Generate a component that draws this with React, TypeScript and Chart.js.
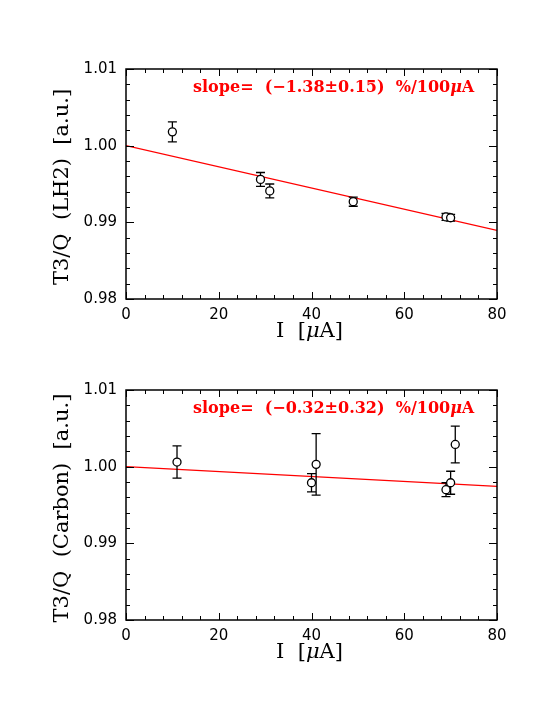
import React, { useEffect, useRef } from 'react';
import { Chart, registerables } from 'chart.js';

Chart.register(...registerables);

// ---------- data ----------
const xTicks = [0, 20, 40, 60, 80];
const yTicks = [0.98, 0.99, 1.0, 1.01];

const lh2Current = [10, 29, 31, 49, 69, 70];
const lh2Ratio = [1.0018, 0.9956, 0.9941, 0.9927, 0.9907, 0.9906];
const lh2Error = [0.0013, 0.0009, 0.0009, 0.0006, 0.00045, 0.00045];
const lh2FitX = [0, 80];
const lh2FitY = [1.0, 0.98896];
const lh2Slope = '(\u22121.38\u00b10.15)';

const carbonCurrent = [11, 40, 41, 69, 70, 71];
const carbonRatio = [1.0006, 0.9979, 1.0003, 0.997, 0.9979, 1.0029];
const carbonError = [0.0021, 0.0012, 0.004, 0.0009, 0.0015, 0.0024];
const carbonFitX = [0, 80];
const carbonFitY = [1.0, 0.99744];
const carbonSlope = '(\u22120.32\u00b10.32)';

const SERIF = "'DejaVu Serif', serif";
const SANS = "'DejaVu Sans', sans-serif";

type PanelProps = {
  top: number;
  height: number;
  padTop: number;
  xAxisH: number;
  xs: number[];
  ys: number[];
  errs: number[];
  fitX: number[];
  fitY: number[];
  slope: string;
  yTitle: string;
};

function drawSegments(ctx: CanvasRenderingContext2D, segs: [string, string][], x: number, y: number, align: 'left' | 'center') {
  let total = 0;
  const widths = segs.map(([t, f]) => {
    ctx.font = f;
    const w = ctx.measureText(t).width;
    total += w;
    return w;
  });
  let cx = align === 'center' ? x - total / 2 : x;
  segs.forEach(([t, f], i) => {
    ctx.font = f;
    ctx.fillText(t, cx, y);
    cx += widths[i];
  });
}

function Panel(p: PanelProps) {
  const ref = useRef<HTMLCanvasElement | null>(null);
  useEffect(() => {
    const canvas = ref.current!;
    const errPlugin = {
      id: 'errbars',
      beforeDatasetDraw(chart: any, args: any) {
        if (args.index !== 0) return;
        const { ctx, scales } = chart;
        const x = scales.x, y = scales.y;
        ctx.save();
        ctx.strokeStyle = '#000';
        ctx.lineWidth = 1.3;
        p.xs.forEach((xv, i) => {
          const px = x.getPixelForValue(xv);
          const y1 = y.getPixelForValue(p.ys[i] + p.errs[i]);
          const y2 = y.getPixelForValue(p.ys[i] - p.errs[i]);
          ctx.beginPath();
          ctx.moveTo(px, y1); ctx.lineTo(px, y2);
          ctx.moveTo(px - 4.5, y1); ctx.lineTo(px + 4.5, y1);
          ctx.moveTo(px - 4.5, y2); ctx.lineTo(px + 4.5, y2);
          ctx.stroke();
        });
        ctx.restore();
      },
    };
    const framePlugin = {
      id: 'frame',
      afterDraw(chart: any) {
        const { ctx, chartArea: a, scales } = chart;
        const x = scales.x, y = scales.y;
        ctx.save();
        ctx.strokeStyle = '#000';
        ctx.lineWidth = 1.5;
        ctx.strokeRect(a.left, a.top, a.right - a.left, a.bottom - a.top);
        ctx.lineWidth = 1;
        ctx.beginPath();
        for (let i = 0; i <= 20; i++) {
          const v = i * 4;
          const px = Math.round(x.getPixelForValue(v)) + 0.5;
          const len = i % 5 === 0 ? 7 : 4;
          ctx.moveTo(px, a.bottom); ctx.lineTo(px, a.bottom - len);
          ctx.moveTo(px, a.top); ctx.lineTo(px, a.top + len);
        }
        for (let i = 0; i <= 15; i++) {
          const v = 0.98 + i * 0.002;
          const py = Math.round(y.getPixelForValue(v)) + 0.5;
          const len = i % 5 === 0 ? 8 : 4;
          ctx.moveTo(a.left, py); ctx.lineTo(a.left + len, py);
          ctx.moveTo(a.right, py); ctx.lineTo(a.right - len, py);
        }
        ctx.stroke();

        // slope annotation
        ctx.fillStyle = '#ff0000';
        ctx.textBaseline = 'middle';
        const sf = `bold 16px ${SERIF}`;
        drawSegments(ctx, [
          ['slope=  ' + p.slope + '  %/100', sf],
          ['\u03bc', `italic bold 16px ${SERIF}`],
          ['A', sf],
        ], a.left + 67, a.top + 19, 'left');

        // x title
        ctx.fillStyle = '#000';
        const tf = `21px ${SERIF}`;
        drawSegments(ctx, [
          ['I  [', tf],
          ['\u03bc', `italic 21px ${SERIF}`],
          ['A]', tf],
        ], (a.left + a.right) / 2 - 2, a.bottom + 33, 'center');

        // y title
        ctx.save();
        ctx.translate(63, (a.top + a.bottom) / 2 + 3);
        ctx.rotate(-Math.PI / 2);
        ctx.textAlign = 'center';
        ctx.font = `21px ${SERIF}`;
        ctx.fillText(p.yTitle, 0, 0);
        ctx.restore();
        ctx.restore();
      },
    };

    const chart = new Chart(canvas, {
      type: 'scatter',
      data: {
        datasets: [
          {
            data: p.xs.map((xv, i) => ({ x: xv, y: p.ys[i] })),
            pointRadius: 4,
            pointBorderWidth: 1.3,
            borderColor: '#000',
            backgroundColor: '#fff',
            showLine: false,
          },
          {
            type: 'line',
            data: p.fitX.map((xv, i) => ({ x: xv, y: p.fitY[i] })),
            borderColor: '#ff0000',
            borderWidth: 1.3,
            pointRadius: 0,
            fill: false,
          } as any,
        ],
      },
      options: {
        animation: false,
        responsive: false,
        devicePixelRatio: 1,
        layout: { padding: { top: p.padTop, right: 57, left: 0, bottom: 0 } },
        plugins: { legend: { display: false }, tooltip: { enabled: false } },
        scales: {
          x: {
            type: 'linear',
            min: 0,
            max: 80,
            afterFit: (s: any) => { s.height = p.xAxisH; },
            afterBuildTicks: (s: any) => { s.ticks = xTicks.map((v) => ({ value: v })); },
            grid: { display: false, drawTicks: false },
            border: { display: false },
            ticks: {
              color: '#000',
              font: { family: SANS, size: 15 },
              padding: 7,
              maxRotation: 0,
              autoSkip: false,
              callback: (v: any) => String(v),
            },
          },
          y: {
            type: 'linear',
            min: 0.98,
            max: 1.01,
            afterFit: (s: any) => { s.width = 126; },
            afterBuildTicks: (s: any) => { s.ticks = yTicks.map((v) => ({ value: v })); },
            grid: { display: false, drawTicks: false },
            border: { display: false },
            ticks: {
              color: '#000',
              font: { family: SANS, size: 15 },
              padding: 9,
              autoSkip: false,
              callback: (v: any) => Number(v).toFixed(2),
            },
          },
        },
      },
      plugins: [errPlugin, framePlugin],
    });
    return () => chart.destroy();
  }, []);
  return (
    <canvas
      ref={ref}
      width={554}
      height={p.height}
      style={{ position: 'absolute', left: 0, top: p.top, width: 554, height: p.height }}
    />
  );
}

export default function App() {
  return (
    <div style={{ position: 'absolute', left: 0, top: 0, width: 554, height: 717, background: '#fff' }}>
      <Panel top={0} height={358} padTop={69} xAxisH={59} xs={lh2Current} ys={lh2Ratio} errs={lh2Error}
        fitX={lh2FitX} fitY={lh2FitY} slope={lh2Slope} yTitle="T3/Q  (LH2)  [a.u.]" />
      <Panel top={358} height={359} padTop={32} xAxisH={97} xs={carbonCurrent} ys={carbonRatio} errs={carbonError}
        fitX={carbonFitX} fitY={carbonFitY} slope={carbonSlope} yTitle="T3/Q  (Carbon)  [a.u.]" />
    </div>
  );
}
